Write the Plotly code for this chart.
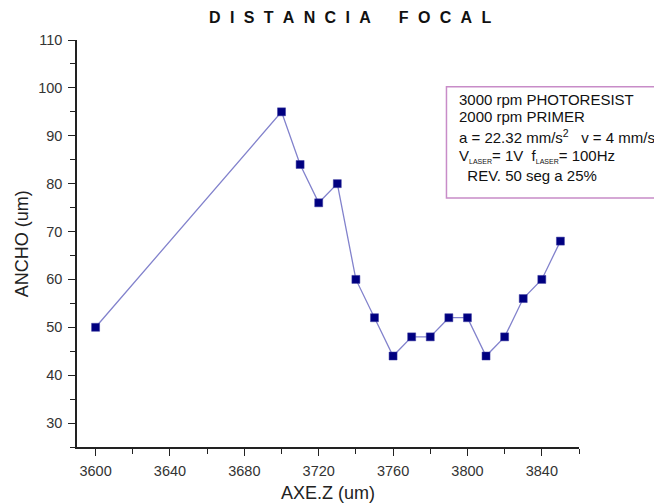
import plotly.graph_objects as go

# Focal distance sweep: line width measured at each Z position
axe_z = [3600, 3700, 3710, 3720, 3730, 3740, 3750, 3760, 3770, 3780,
         3790, 3800, 3810, 3820, 3830, 3840, 3850]
ancho = [50, 95, 84, 76, 80, 60, 52, 44, 48, 48,
         52, 52, 44, 48, 56, 60, 68]

x_ticks = [3600, 3640, 3680, 3720, 3760, 3800, 3840]
y_ticks = [30, 40, 50, 60, 70, 80, 90, 100, 110]

title_words = ["DISTANCIA", "FOCAL"]
x_title = "AXE.Z (um)"
y_title = "ANCHO (um)"
info_lines = [
    "3000 rpm PHOTORESIST",
    "2000 rpm PRIMER",
    "a = 22.32 mm/s<sup>2</sup>   v = 4 mm/s",
    "V<sub><span style='font-size:7px'>LASER</span></sub>= 1V  "
    "f<sub><span style='font-size:7px'>LASER</span></sub>= 100Hz",
    "  REV. 50 seg a 25%",
]

FONT = "Liberation Sans, Arial, sans-serif"

fig = go.Figure()
fig.add_trace(go.Scatter(
    x=axe_z, y=ancho, mode="lines+markers",
    line=dict(color="#8282cc", width=1.3),
    marker=dict(symbol="square", size=8, color="#000080",
                line=dict(color="#3a3aa0", width=0.5)),
    showlegend=False,
))

axis_common = dict(
    showline=True, linecolor="#222", linewidth=1.5,
    ticks="outside", ticklen=7, tickwidth=1.3, tickcolor="#222",
    showgrid=False, zeroline=False, automargin=False,
    tickfont=dict(family=FONT, size=14.5, color="#333"),
    mirror=False,
)

fig.update_xaxes(
    range=[3590, 3860], tickvals=x_ticks, ticklabelstandoff=3,
    minor=dict(ticks="outside", ticklen=5, tickwidth=1.2, tickcolor="#222", dtick=20, tick0=3600),
    title=dict(text=x_title, font=dict(family=FONT, size=18, color="#222"), standoff=8),
    **axis_common,
)
fig.update_yaxes(
    range=[25, 110], tickvals=y_ticks, ticklabelstandoff=3,
    minor=dict(ticks="outside", ticklen=5, tickwidth=1.2, tickcolor="#222", dtick=5, tick0=30),
    **axis_common,
)

# Vertical axis title placed explicitly
fig.add_annotation(
    text=y_title, textangle=-90,
    xref="paper", yref="paper", x=-0.110, y=0.5,
    xanchor="center", yanchor="middle", showarrow=False,
    font=dict(family=FONT, size=18, color="#222"),
)

# Spaced-out title
gap = "\u2002\u200a"
title_text = (gap * 3).join(gap.join(w) for w in title_words)
fig.add_annotation(
    text=title_text,
    xref="paper", yref="paper", x=0.543, y=1.0, yanchor="bottom", xanchor="center",
    yshift=12, showarrow=False,
    font=dict(family=FONT, size=16, color="#111", weight="bold"),
)

# Info box with process parameters
fig.add_shape(
    type="rect", xref="paper", yref="paper",
    x0=0.736, x1=1.3, y0=0.612, y1=0.885,
    line=dict(color="#c88cc8", width=1.5), fillcolor="rgba(0,0,0,0)",
)
line_y = [0.855, 0.812, 0.762, 0.714, 0.668]
for txt, yy in zip(info_lines, line_y):
    fig.add_annotation(
        text=txt, xref="paper", yref="paper", x=0.756, y=yy,
        xanchor="left", yanchor="middle", showarrow=False, align="left",
        font=dict(family=FONT, size=15, color="#111"),
    )

fig.update_layout(
    width=654, height=504,
    margin=dict(l=77, r=75, t=40, b=57),
    paper_bgcolor="white", plot_bgcolor="white",
    font=dict(family=FONT),
)

fig.write_html("out.html")
